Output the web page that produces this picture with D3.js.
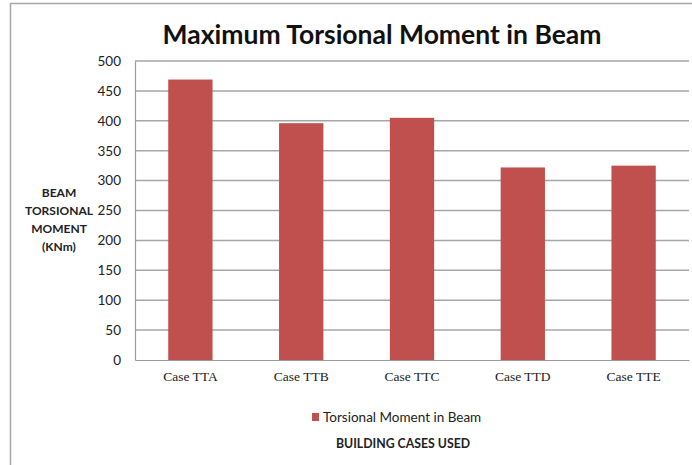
<!DOCTYPE html>
<html>
<head>
<meta charset="utf-8">
<script src="https://cdn.jsdelivr.net/npm/d3@7"></script>
<style>
  body { margin: 0; background: #fff; }
  svg { display: block; }
</style>
</head>
<body>
<svg id="chart" width="692" height="465"></svg>
<script>
// data
const categories = ["Case TTA", "Case TTB", "Case TTC", "Case TTD", "Case TTE"];
const torsionValues = [469, 396, 405, 322, 325];
const yTicks = [0, 50, 100, 150, 200, 250, 300, 350, 400, 450, 500];
const seriesName = "Torsional Moment in Beam";

const svg = d3.select("#chart");
const plotLeft = 135, plotRight = 689, plotTop = 61, plotBottom = 360;

// outer chart frame (cropped at right/bottom in the reference)
svg.append("rect")
    .attr("x", 10.5).attr("y", 3.5)
    .attr("width", 700).attr("height", 480)
    .attr("fill", "none")
    .attr("stroke", "#a6a6a6")
    .attr("stroke-width", 1.5);

const x = d3.scaleBand()
    .domain(categories)
    .range([plotLeft, plotRight])
    .paddingInner(0.6)
    .paddingOuter(0.3);

const y = d3.scaleLinear()
    .domain([0, 500])
    .range([plotBottom, plotTop]);

// gridlines
svg.append("g")
    .selectAll("line")
    .data(yTicks.filter(d => d > 0))
    .enter()
    .append("line")
    .attr("x1", plotLeft).attr("x2", plotRight)
    .attr("y1", d => y(d)).attr("y2", d => y(d))
    .attr("stroke", "#a6a6a6")
    .attr("stroke-width", 1.5);

// y axis
const yAxis = d3.axisLeft(y).tickValues(yTicks).tickSize(0).tickPadding(14);
const gy = svg.append("g").attr("transform", `translate(${plotLeft},0)`).call(yAxis);
gy.select(".domain").attr("stroke", "#9a9a9a").attr("stroke-width", 1.2);
gy.selectAll("text")
    .attr("font-family", "Lato, 'Open Sans', sans-serif")
    .attr("font-size", 13.5)
    .attr("fill", "#222");

// bars
svg.append("g")
    .selectAll("rect")
    .data(torsionValues)
    .enter()
    .append("rect")
    .attr("x", (d, i) => x(categories[i]))
    .attr("y", d => y(d))
    .attr("width", x.bandwidth())
    .attr("height", d => plotBottom - y(d))
    .attr("fill", "#c0504d");

// x axis
const xAxis = d3.axisBottom(x).tickSize(0).tickPadding(11);
const gx = svg.append("g").attr("transform", `translate(0,${plotBottom})`).call(xAxis);
gx.select(".domain").attr("stroke", "#9a9a9a").attr("stroke-width", 1.2);
gx.selectAll("text")
    .attr("font-family", "'Liberation Serif', 'DejaVu Serif', serif")
    .attr("font-size", 13.5)
    .attr("fill", "#222");

// title
svg.append("text")
    .attr("x", 382).attr("y", 44)
    .attr("text-anchor", "middle")
    .attr("font-family", "Lato, 'Open Sans', sans-serif")
    .attr("font-weight", "bold")
    .attr("font-size", 26.5)
    .attr("fill", "#111")
    .text("Maximum Torsional Moment in Beam");

// y axis title
const yTitle = ["BEAM", "TORSIONAL", "MOMENT", "(KNm)"];
svg.append("g")
    .selectAll("text")
    .data(yTitle)
    .enter()
    .append("text")
    .attr("x", 59)
    .attr("y", (d, i) => 197 + i * 18)
    .attr("text-anchor", "middle")
    .attr("font-family", "Lato, 'Open Sans', sans-serif")
    .attr("font-weight", "bold")
    .attr("font-size", 12)
    .attr("fill", "#222")
    .text(d => d);

// legend
svg.append("rect")
    .attr("x", 312).attr("y", 413)
    .attr("width", 7).attr("height", 8)
    .attr("fill", "#c0504d");
svg.append("text")
    .attr("x", 323).attr("y", 421.5)
    .attr("font-family", "Lato, 'Open Sans', sans-serif")
    .attr("font-size", 13.5)
    .attr("fill", "#222")
    .text(seriesName);

// x axis title
svg.append("text")
    .attr("x", 403).attr("y", 448)
    .attr("text-anchor", "middle")
    .attr("font-family", "Lato, 'Open Sans', sans-serif")
    .attr("font-weight", "bold")
    .attr("font-size", 12.3)
    .attr("fill", "#222")
    .text("BUILDING CASES USED");
</script>
</body>
</html>
